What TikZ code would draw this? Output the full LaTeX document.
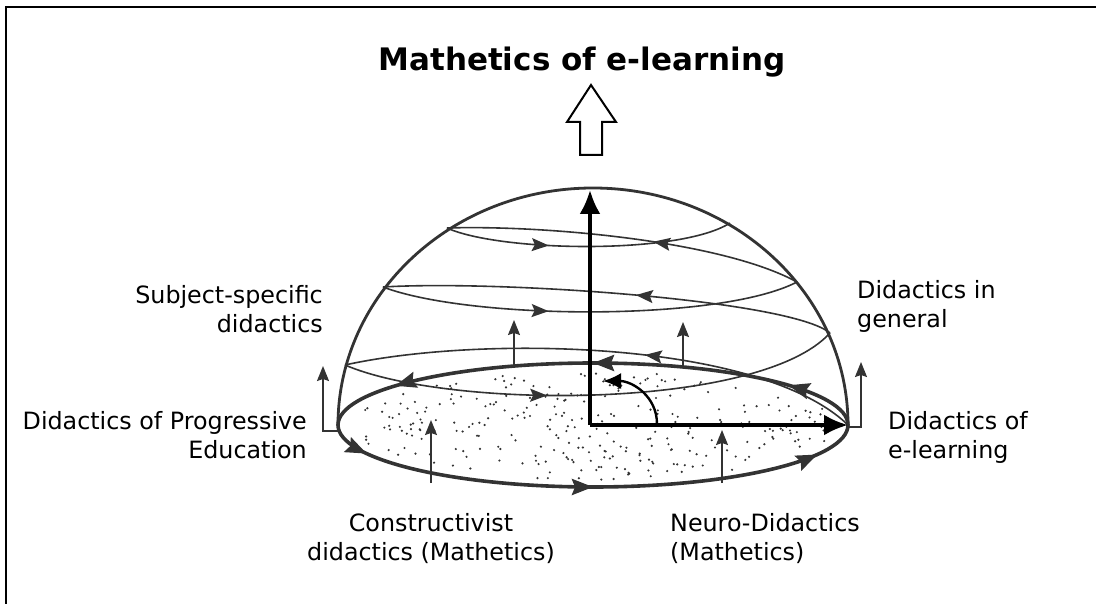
\documentclass[tikz,border=0pt]{standalone}
\usepackage{fontspec}
\setmainfont{DejaVu Sans}
\usetikzlibrary{arrows.meta,decorations.markings}
\definecolor{ink}{HTML}{333333}
\begin{document}
\begin{tikzpicture}[x=1pt,y=-1pt,
  ringline/.style={ink, line width=1.6pt},
  domeline/.style={ink, line width=2.8pt},
  baserim/.style={ink, line width=3.6pt},
  axisline/.style={black, line width=3.6pt, -{Latex[length=24pt,width=21pt]}},
  upar/.style={ink, line width=1.6pt, -{Stealth[length=15pt,width=12pt,inset=2pt]}},
  lbl/.style={font=\fontsize{23.8}{29}\selectfont, inner sep=0pt},
  midmark/.style={postaction={decorate,decoration={markings,mark=at position #1 with {\arrow{Stealth[length=17pt,width=13pt,inset=3pt]}}}}},
  rimmark/.style={postaction={decorate,decoration={markings,mark=at position #1 with {\arrow{Stealth[length=21pt,width=16pt,inset=3pt]}}}}},
]
\useasboundingbox (0,0) rectangle (1096,604);
% frame (left and top edges visible)
\draw[black, line width=2pt] (6,604) -- (6,7) -- (1096,7);

% key points
\coordinate (O) at (590,425);
\coordinate (BL) at (338,425);
\coordinate (BR) at (848,425);
\coordinate (TOP) at (590,190);
\coordinate (L1) at (447,228);
\coordinate (R1) at (730,223);
\coordinate (L2) at (383,287);
\coordinate (R2) at (797,282);
\coordinate (L3) at (345,365);
\coordinate (R3) at (830,333);

% stipple dots on the base
\pgfmathsetseed{11}
\foreach \i in {1,...,300}{
  \pgfmathsetmacro{\rr}{sqrt(rnd)}
  \pgfmathsetmacro{\aa}{360*rnd}
  \fill[ink] ({593+243*\rr*cos(\aa)},{425+55*\rr*sin(\aa)}) circle[radius=1.2pt];
}

% dome outline
\draw[domeline] (BL) arc[start angle=180, end angle=360, x radius=255, y radius=237];

% spiral rings
\draw[ringline, midmark=0.42] (BR) .. controls (760,340) and (480,335) .. (L3);
\draw[ringline, midmark=0.41] (L3) .. controls (450,410) and (760,410) .. (R3);
\draw[ringline, midmark=0.44] (R3) .. controls (790,300) and (500,280) .. (L2);
\draw[ringline, midmark=0.40] (L2) .. controls (470,320) and (720,322) .. (R2);
\draw[ringline, midmark=0.42] (R2) .. controls (720,240) and (540,225) .. (L1);
\draw[ringline, midmark=0.36] (L1) .. controls (500,252) and (680,255) .. (R1);

% base rim with arrows
\draw[baserim, rimmark=0.069, rimmark=0.25, rimmark=0.433, rimmark=0.539, rimmark=0.75, rimmark=0.959]
  (BR) arc[start angle=0, end angle=-360, x radius=255, y radius=62];

% thin upward arrows
\draw[upar] (514,368) -- (514,320);
\draw[upar] (683,366) -- (683,322);
\draw[upar] (BL) ++(0,6) -- (323,431) -- (323,366);
\draw[upar] (BR) ++(0,2) -- (861,427) -- (861,362);
\draw[upar] (431,483) -- (431,420);
\draw[upar] (722,483) -- (722,430);

% axes
\draw[axisline] (O) -- (TOP);
\draw[axisline] (O) -- (BR);
\draw[black, line width=2.4pt, -{Latex[length=18pt,width=16pt]}] (657,424) .. controls (657,396) and (632,381) .. (603,381);

% hollow arrow
\draw[black, line width=2pt, fill=white] (580,155) -- (580,122) -- (567,122) -- (591,85) -- (616,122) -- (602,122) -- (602,155) -- cycle;

% title
\node[font=\fontsize{31}{36}\selectfont\bfseries, anchor=base, inner sep=0pt] (title) at (582,71) {Mathetics of e-learning};

% labels
\node[lbl, align=right, anchor=north east] (subj) at (323,285) {Subject-specific\\didactics};
\node[lbl, align=right, anchor=north east] (prog) at (307,411) {Didactics of Progressive\\Education};
\node[lbl, align=left, anchor=north west] (gen) at (857,280) {Didactics in\\general};
\node[lbl, align=left, anchor=north west] (elearn) at (888,411) {Didactics of\\e-learning};
\node[lbl, align=center, anchor=north] (constr) at (431,513) {Constructivist\\didactics (Mathetics)};
\node[lbl, align=left, anchor=north west] (neuro) at (670,513) {Neuro-Didactics\\(Mathetics)};
\end{tikzpicture}
\end{document}
